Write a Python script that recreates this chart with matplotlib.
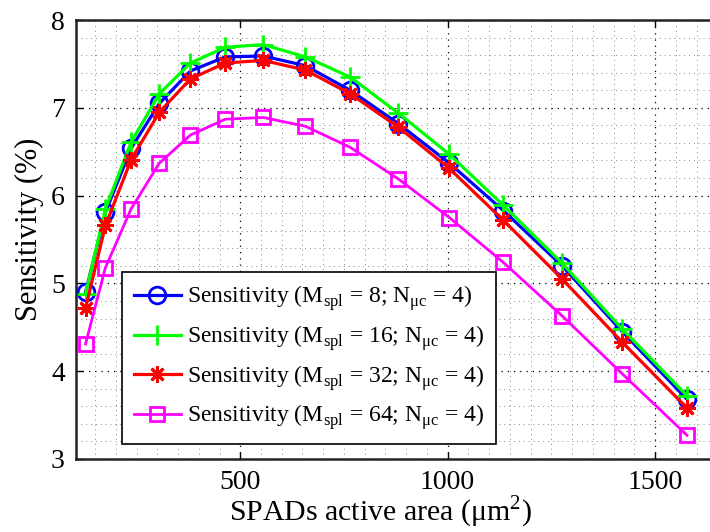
import matplotlib
matplotlib.use("Agg")
import matplotlib.pyplot as plt
from matplotlib.ticker import MultipleLocator

plt.rcParams['font.family'] = ['Liberation Serif', 'DejaVu Serif']
plt.rcParams['mathtext.fontset'] = 'custom'
plt.rcParams['mathtext.rm'] = 'Liberation Serif'

# SPAD active area (um^2)
area = [127, 175, 237, 305, 380, 464, 555, 657, 765, 881, 1004, 1134, 1276, 1421, 1577]

# sensitivity (%) per M_spl
sens_m8 = [4.90, 5.81, 6.54, 7.05, 7.42, 7.58, 7.59, 7.48, 7.20, 6.82, 6.37, 5.83, 5.20, 4.45, 3.68]
sens_m16 = [4.88, 5.85, 6.61, 7.16, 7.51, 7.69, 7.72, 7.58, 7.35, 6.94, 6.47, 5.89, 5.23, 4.48, 3.72]
sens_m32 = [4.72, 5.66, 6.41, 6.95, 7.33, 7.51, 7.54, 7.43, 7.16, 6.78, 6.31, 5.72, 5.05, 4.33, 3.58]
sens_m64 = [4.31, 5.18, 5.85, 6.37, 6.69, 6.87, 6.89, 6.79, 6.55, 6.19, 5.75, 5.24, 4.63, 3.97, 3.27]

labels = [r"Sensitivity (M$_{\mathrm{spl}}$ = 8; N$_{\mathrm{μc}}$ = 4)",
          r"Sensitivity (M$_{\mathrm{spl}}$ = 16; N$_{\mathrm{μc}}$ = 4)",
          r"Sensitivity (M$_{\mathrm{spl}}$ = 32; N$_{\mathrm{μc}}$ = 4)",
          r"Sensitivity (M$_{\mathrm{spl}}$ = 64; N$_{\mathrm{μc}}$ = 4)"]

fig = plt.figure(figsize=(7.1, 5.32), dpi=100)
# axes run off the right edge like the cropped original
ax = fig.add_axes([76/710, (532-459)/532, 662/710, 439/532])

# MATLAB-ish styles
ax.plot(area, sens_m8, '-', color='#0000ff', lw=2.3, marker='o', ms=12,
        mfc='none', mec='#0000ff', mew=2, label=labels[0])
ax.plot(area, sens_m16, '-', color='#00ff00', lw=2.3, marker='+', ms=14,
        mew=2, label=labels[1])
ax.plot(area, sens_m32, '-', color='#ff0000', lw=2.3, marker=(8, 2, 0), ms=12,
        mew=2, label=labels[2])
ax.plot(area, sens_m64, '-', color='#ff00ff', lw=2.0, marker='s', ms=9.5,
        mfc='none', mec='#ff00ff', mew=2, label=labels[3])

ax.set_xlim(104, 1700)
ax.set_ylim(3, 8)
ax.set_xticks([500, 1000, 1500])
ax.set_yticks([3, 4, 5, 6, 7, 8])
ax.xaxis.set_minor_locator(MultipleLocator(50))
ax.yaxis.set_minor_locator(MultipleLocator(0.2))
ax.tick_params(which='major', direction='in', length=5, width=1, top=True, right=True,
               labelsize=20, pad=8)
ax.tick_params(which='minor', length=0)

ax.grid(which='major', color='black', linestyle=(0, (1, 4)), linewidth=0.9)
ax.grid(which='minor', color='#888888', linestyle=(0, (1, 4)), linewidth=0.7)
ax.set_axisbelow(True)
for sp in ax.spines.values():
    sp.set_linewidth(1.8)
    sp.set_color('#222222')

ax.set_xlabel("SPADs active area (μm$^{2}$)", fontsize=21.5)
ax.set_ylabel("Sensitivity (%)", fontsize=22)
ax.xaxis.set_label_coords((381-76)/662, -0.08)
ax.yaxis.set_label_coords((44-76)/662, (459-229)/439)

leg = ax.legend(loc='upper left', bbox_to_anchor=(0.0695, 0.426), borderaxespad=0,
                fontsize=17, handlelength=2.0, handletextpad=0.25, labelspacing=0.42,
                fancybox=False, framealpha=1, edgecolor='black', borderpad=0.5)
leg.get_frame().set_linewidth(1.2)

fig.savefig("out.png", dpi=100)
